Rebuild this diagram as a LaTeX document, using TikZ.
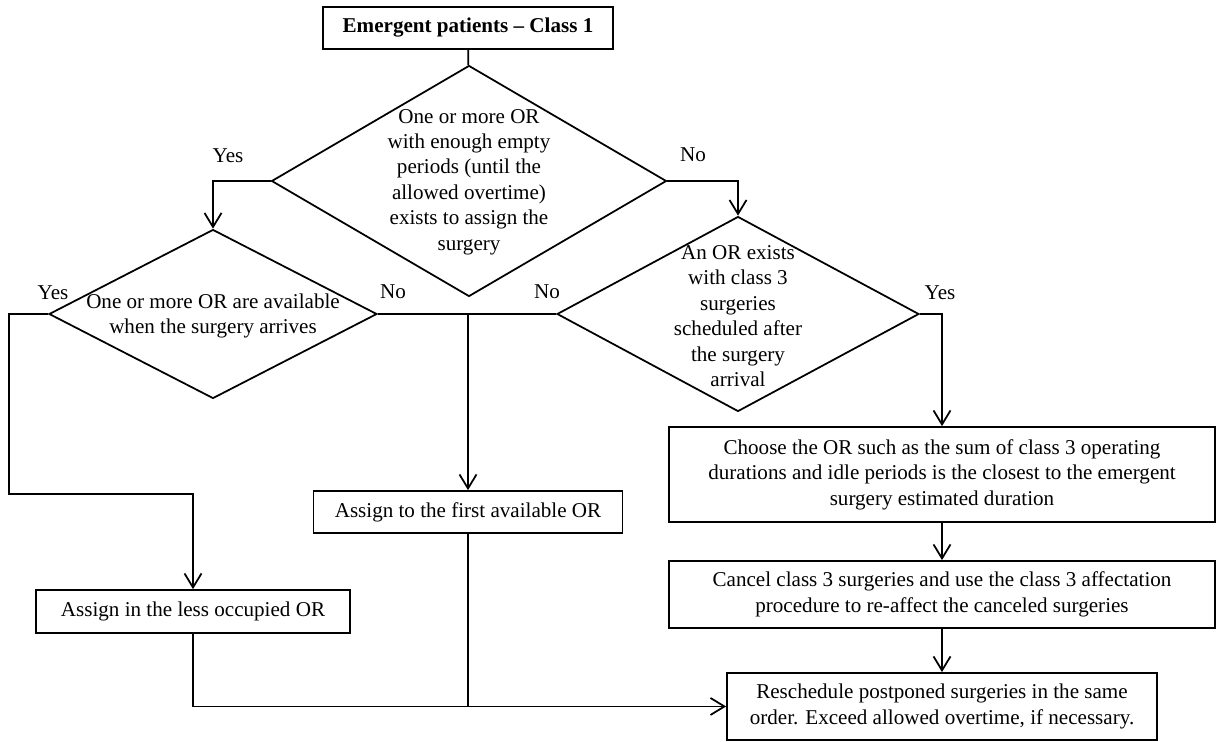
\documentclass[tikz,border=0pt,12pt]{standalone}
\usepackage{fontspec}
\setmainfont{Liberation Serif}
\usetikzlibrary{shapes.geometric,arrows.meta,positioning}
\tikzstyle{line} = [draw, line width=1pt, -{Straight Barb[length=2.8mm,width=3.4mm]}]
\tikzstyle{plain} = [draw, line width=1pt]
\tikzstyle{block} = [draw, line width=1pt, rectangle, text centered, align=center, inner sep=2pt]
\tikzstyle{decision} = [draw, line width=1pt, diamond, inner sep=0pt]
\tikzstyle{dtext} = [align=center, inner sep=0pt]
\tikzstyle{answer} = [inner sep=0pt]

\begin{document}
\begin{tikzpicture}[x=0.02cm, y=-0.02cm, node distance=1.5cm]
        \useasboundingbox (0,0) rectangle (1217,741);
        \node[block, minimum width=5.8cm, minimum height=0.84cm, font=\bfseries] (start) at (468,28) {Emergent patients -- Class 1};
        % decisions
        \node[decision, minimum width=7.9cm, minimum height=4.62cm] (q1) at (469,181) {};
        \node[dtext] (q1t) at (469,182) {One or more OR\\with enough empty\\periods (until the\\allowed overtime)\\exists to assign the\\surgery};
        \node[decision, minimum width=6.56cm, minimum height=3.38cm] (q2) at (213,314) {};
        \node[dtext] (q2t) at (213,316) {One or more OR are available\\when the surgery arrives};
        \node[decision, minimum width=7.24cm, minimum height=3.9cm] (q3) at (738,314) {};
        \node[dtext] (q3t) at (738,316) {An OR exists\\with class 3\\surgeries\\scheduled after\\the surgery\\arrival};
        % answers
        \node[answer] (yes1) at (228,156) {Yes};
        \node[answer] (no1) at (693,155) {No};
        \node[answer] (yes2) at (53,293) {Yes};
        \node[answer] (no2) at (393,292) {No};
        \node[answer] (no3) at (547,292) {No};
        \node[answer] (yes3) at (940,293) {Yes};
        % actions
        \node[block, minimum width=6.28cm, minimum height=0.86cm] (less) at (193,611.5) {Assign in the less occupied OR};
        \node[block, minimum width=6.18cm, minimum height=0.84cm] (first) at (468,512) {Assign to the first available OR};
        \node[block, minimum width=10.92cm, minimum height=1.9cm] (choose) at (942,474.5) {Choose the OR such as the sum of class 3 operating\\durations and idle periods is the closest to the emergent\\surgery estimated duration};
        \node[block, minimum width=10.92cm, minimum height=1.34cm, below of=choose, node distance=2.4cm] (cancel) {Cancel class 3 surgeries and use the class 3 affectation\\procedure to re-affect the canceled surgeries};
        \node[block, minimum width=8.6cm, minimum height=1.34cm, below of=cancel, node distance=2.24cm] (resched) {Reschedule postponed surgeries in the same\\order. Exceed allowed overtime, if necessary.};
        \coordinate (j1) at (468,314);
        \coordinate (c1) at (9,314);
        \coordinate (c2) at (9,494);
        \path[plain] (start) -- (q1);
        \path[line] (q1.west) -| (q2.north);
        \path[line] (q1.east) -| (q3.north);
        \path[plain] (q2.east) -- (j1);
        \path[plain] (q3.west) -- (j1);
        \path[line] (j1) -- (first);
        \path[line] (q2.west) -- (c1) -- (c2) -| (less.north);
        \path[line] (q3.east) -| (choose.north);
        \path[line] (choose) -- (cancel);
        \path[line] (cancel) -- (resched);
        \path[line] (less.south) |- (resched.west);
        \path[plain] (first.south) -- (first.south |- resched.west);
    \end{tikzpicture}
\end{document}
